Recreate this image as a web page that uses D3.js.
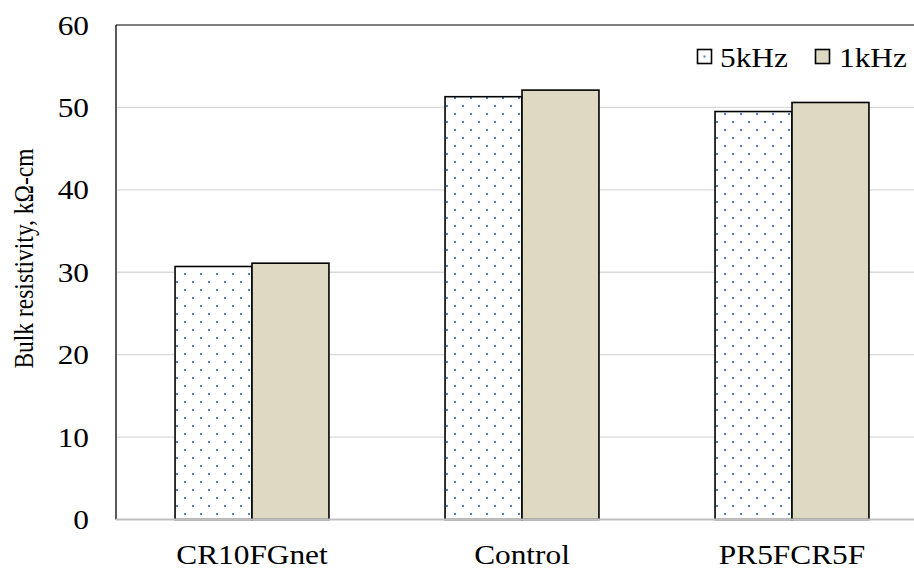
<!DOCTYPE html>
<html><head><meta charset="utf-8">
<script src="https://cdn.jsdelivr.net/npm/d3@7/dist/d3.min.js"></script>
<style>body{margin:0;background:#fff}svg{display:block}</style>
</head><body><div id="chart"></div>
<script>
const categories = ["CR10FGnet", "Control", "PR5FCR5F"];
const seriesNames = ["5kHz", "1kHz"];
const values5kHz = [30.7, 51.3, 49.5];
const values1kHz = [31.1, 52.1, 50.6];
const yTicks = [0, 10, 20, 30, 40, 50, 60];
const yTitle = "Bulk resistivity, kΩ-cm";

(function () {
const W = 914, H = 569;
const FONT = "'Liberation Serif','Times New Roman',serif";
const SX = 1.14;
const svg = d3.select("#chart").append("svg").attr("width", W).attr("height", H);

const defs = svg.append("defs");
const pat = defs.append("pattern").attr("id", "dots").attr("patternUnits", "userSpaceOnUse")
  .attr("width", 16).attr("height", 16);
pat.append("rect").attr("width", 16).attr("height", 16).attr("fill", "#fff");
pat.append("rect").attr("x", 1).attr("y", 9).attr("width", 2).attr("height", 2).attr("fill", "#4a7ebb");
pat.append("rect").attr("x", 9).attr("y", 1).attr("width", 2).attr("height", 2).attr("fill", "#4a7ebb");

const pL = 117, pR = 927, pT = 25, pB = 519.5;
const y = d3.scaleLinear().domain([0, 60]).range([pB, pT]);
const x0 = d3.scaleBand().domain(categories).range([pL, pR]).paddingInner(0.43).paddingOuter(0.215);
const x1 = d3.scaleBand().domain(seriesNames).range([0, x0.bandwidth()]);
const fills = {"5kHz": "url(#dots)", "1kHz": "#ddd9c3"};
const data = categories.map((c, i) => ({cat: c, vals: [
  {s: "5kHz", v: values5kHz[i]}, {s: "1kHz", v: values1kHz[i]}]}));

// gridlines
svg.append("g").selectAll("line").data(yTicks.filter(t => t > 0 && t < 60)).join("line")
  .attr("x1", pL).attr("x2", W).attr("y1", d => y(d)).attr("y2", d => y(d))
  .attr("stroke", "#d9d9d9").attr("stroke-width", 1.3);

// bars
const g = svg.append("g").selectAll("g").data(data).join("g")
  .attr("transform", d => `translate(${x0(d.cat)},0)`);
g.selectAll("rect").data(d => d.vals).join("rect")
  .attr("x", d => x1(d.s)).attr("width", x1.bandwidth())
  .attr("y", d => y(d.v)).attr("height", d => y(0) - y(d.v))
  .attr("fill", d => fills[d.s]).attr("stroke", "#000").attr("stroke-width", 1.6);

// frame (top & left)
svg.append("line").attr("x1", 116).attr("x2", W).attr("y1", pT).attr("y2", pT)
  .attr("stroke", "#000").attr("stroke-width", 1.2);
svg.append("line").attr("x1", 116).attr("x2", 116).attr("y1", pT).attr("y2", pB)
  .attr("stroke", "#000").attr("stroke-width", 1.3);
// zero axis line
svg.append("line").attr("x1", 116).attr("x2", W).attr("y1", pB).attr("y2", pB)
  .attr("stroke", "#bfbfbf").attr("stroke-width", 1.8);

// y tick labels
svg.append("g").selectAll("text").data(yTicks).join("text")
  .attr("transform", d => `translate(89,${y(d)}) scale(${SX},1)`)
  .attr("text-anchor", "end").attr("dy", "0.35em")
  .attr("font-family", FONT).attr("font-size", 27.5).attr("fill", "#000").text(d => d);

// x labels
svg.append("g").selectAll("text").data(categories).join("text")
  .attr("transform", d => `translate(${x0(d) + x0.bandwidth() / 2},563.5) scale(${SX},1)`)
  .attr("text-anchor", "middle")
  .attr("font-family", FONT).attr("font-size", 27.5).attr("fill", "#000").text(d => d);

// y title
svg.append("text").attr("transform", `translate(33,${(148 + 369) / 2}) rotate(-90) scale(1,${SX})`)
  .attr("text-anchor", "middle")
  .attr("font-family", FONT).attr("font-size", 23.5).attr("fill", "#000").text(yTitle);

// legend
const legendItems = [{s: "5kHz", x: 697, tx: 720}, {s: "1kHz", x: 815, tx: 839}];
const lg = svg.append("g").selectAll("g").data(legendItems).join("g");
lg.append("rect").attr("x", d => d.x + 0.5).attr("y", 49.5).attr("width", 14).attr("height", 14)
  .attr("fill", d => d.s === "5kHz" ? "#fff" : fills[d.s]).attr("stroke", "#000").attr("stroke-width", 1.6);
lg.filter(d => d.s === "5kHz").append("rect").attr("x", d => d.x + 6.5).attr("y", 55.5)
  .attr("width", 2).attr("height", 2).attr("fill", "#4a7ebb");
lg.append("text").attr("transform", d => `translate(${d.tx},66.5) scale(${SX},1)`)
  .attr("font-family", FONT).attr("font-size", 27.5).attr("fill", "#000").text(d => d.s);
})();
</script></body></html>
